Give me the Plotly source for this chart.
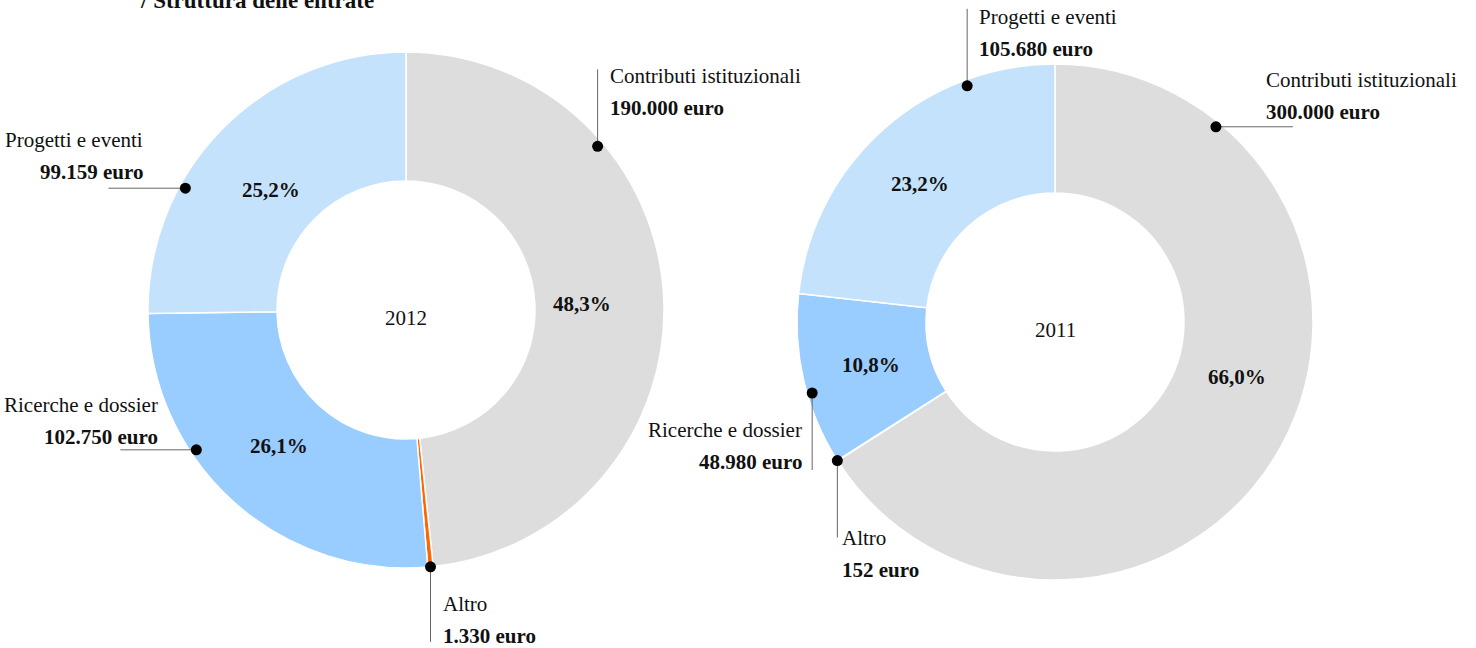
import math
import plotly.graph_objects as go

W, H = 1476, 648

# ---------------- data ----------------
categories = ["Contributi istituzionali", "Altro", "Ricerche e dossier", "Progetti e eventi"]
values_2012 = [190000, 1330, 102750, 99159]
values_2011 = [300000, 152, 48980, 105680]
years = ["2012", "2011"]
colors = ["#dddddd", "#ff6600", "#99ccff", "#c5e2fd"]
title_text = "/ Struttura delle entrate"

# ---------------- layout config (pixels) ----------------
FONT = "Liberation Serif"
FS = 21
pies_cfg = [
    dict(values=values_2012, year=years[0], cx=406, cy=310, r=258,
         pct_shift=[1, 0, 1, -3], pct_r=[176, 0, 186, 181],
         labels=[
             dict(ang=49.5, rad=252, line=(0, -77), text=(10, -70), align="left"),
             dict(ang=None, rad=258, line=(0, 75), text=(10, 37), align="left"),
             dict(ang=236.3, rad=252, line=(-76, 0), text=(-36, -45), align="right"),
             dict(ang=298.9, rad=252, line=(-77, 0), text=(-40, -48), align="right"),
         ]),
    dict(values=values_2011, year=years[1], cx=1055, cy=322, r=258,
         pct_shift=[-12, 0, 0, -2.5], pct_r=[190, 0, 189, 193],
         labels=[
             dict(ang=39.5, rad=253, line=(77, 0), text=(48, -47), align="left"),
             dict(ang=None, rad=258, line=(0, 77), text=(3, 77), align="left"),
             dict(ang=253.7, rad=253, line=(0, 77), text=(-8, 37), align="right"),
             dict(ang=339.6, rad=252, line=(0, -77), text=(10, -69), align="left"),
         ]),
]
LINE_GAP = 32


def px(x, y):
    return x / W, 1 - y / H


def fmt_euro(v):
    return f"{v:,}".replace(",", ".") + " euro"


fig = go.Figure()
annotations = []
shapes = []

for cfg in pies_cfg:
    cx, cy, r = cfg["cx"], cfg["cy"], cfg["r"]
    x0, y1 = px(cx - r, cy - r)
    x1, y0 = px(cx + r, cy + r)
    fig.add_trace(go.Pie(
        labels=categories, values=cfg["values"], hole=0.5, sort=False,
        direction="clockwise", rotation=0,
        marker=dict(colors=colors, line=dict(color="white", width=1.5)),
        textinfo="none", showlegend=False,
        domain=dict(x=[x0, x1], y=[y0, y1]),
    ))
    total = sum(cfg["values"])
    cum = 0
    for i, v in enumerate(cfg["values"]):
        start = cum / total * 360
        cum += v
        end = cum / total * 360
        mid = (start + end) / 2
        pct = v / total * 100
        if pct >= 5:
            a = math.radians(mid + cfg["pct_shift"][i])
            pr = cfg["pct_r"][i]
            lx, ly = cx + pr * math.sin(a), cy - pr * math.cos(a)
            ax_, ay_ = px(lx, ly)
            annotations.append(dict(
                x=ax_, y=ay_, xref="paper", yref="paper", showarrow=False,
                text=f"<b>{pct:.1f}%</b>".replace(".", ","),
                font=dict(family=FONT, size=FS, color="#111111"),
                xanchor="center", yanchor="middle"))
        lc = cfg["labels"][i]
        ang = lc["ang"] if lc["ang"] is not None else mid
        a = math.radians(ang)
        dx, dy = cx + lc["rad"] * math.sin(a), cy - lc["rad"] * math.cos(a)
        ex, ey = dx + lc["line"][0], dy + lc["line"][1]
        p0 = px(dx, dy)
        p1 = px(ex, ey)
        shapes.append(dict(type="line", xref="paper", yref="paper",
                           x0=p0[0], y0=p0[1], x1=p1[0], y1=p1[1],
                           line=dict(color="#666666", width=1)))
        rr = 5.5
        c0 = px(dx - rr, dy + rr)
        c1 = px(dx + rr, dy - rr)
        shapes.append(dict(type="circle", xref="paper", yref="paper",
                           x0=c0[0], y0=c0[1], x1=c1[0], y1=c1[1],
                           fillcolor="black", line=dict(color="black", width=0)))
        tx, ty = dx + lc["text"][0], dy + lc["text"][1]
        for k, (txt, bold) in enumerate([(categories[i], False), (fmt_euro(v), True)]):
            qx, qy = px(tx, ty + k * LINE_GAP)
            annotations.append(dict(
                x=qx, y=qy, xref="paper", yref="paper", showarrow=False,
                text=f"<b>{txt}</b>" if bold else txt,
                font=dict(family=FONT, size=FS, color="#111111"),
                xanchor=lc["align"], yanchor="middle"))
    qx, qy = px(cx, cy + 8)
    annotations.append(dict(x=qx, y=qy, xref="paper", yref="paper", showarrow=False,
                            text=cfg["year"], font=dict(family=FONT, size=FS, color="#111111"),
                            xanchor="center", yanchor="middle"))

# clipped title at top
qx, qy = px(138, 15)
annotations.append(dict(x=qx, y=qy, xref="paper", yref="paper", showarrow=False,
                        text=f"<b>{title_text}</b>",
                        font=dict(family=FONT, size=23, color="#111111"),
                        xanchor="left", yanchor="bottom"))

fig.update_layout(
    width=W, height=H,
    margin=dict(l=0, r=0, t=0, b=0),
    paper_bgcolor="white", plot_bgcolor="white",
    annotations=annotations, shapes=shapes,
    font=dict(family=FONT),
)

fig.write_html("out.html", config={"displayModeBar": False},
               post_script="document.body.style.margin='0';document.body.style.overflow='hidden';")
